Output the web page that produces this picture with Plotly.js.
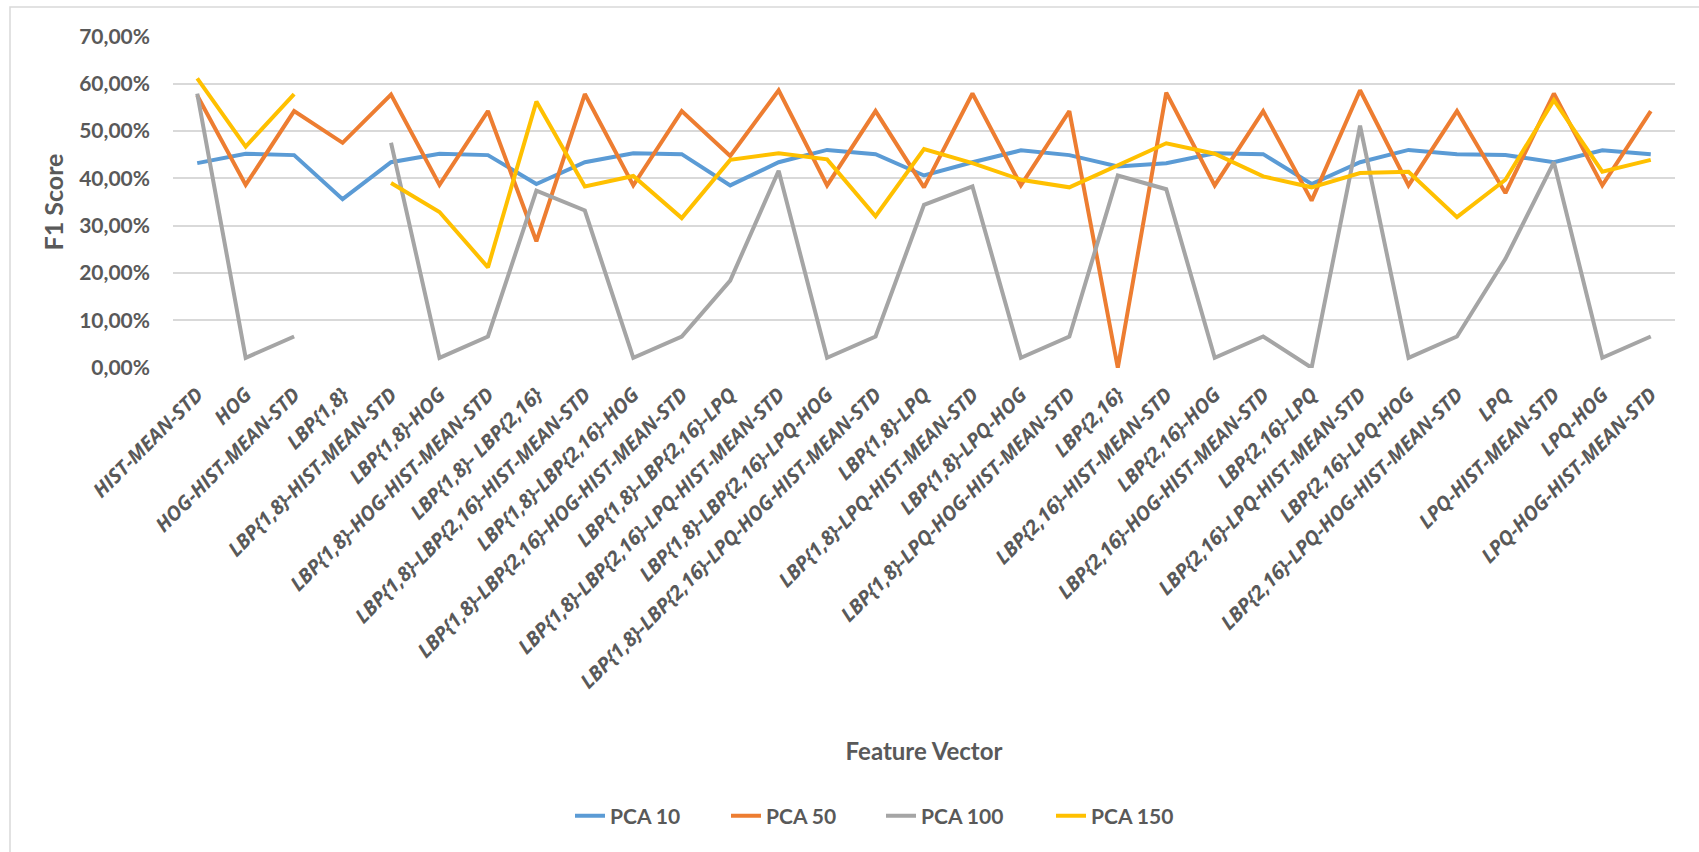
<!DOCTYPE html>
<html>
<head>
<meta charset="utf-8">
<script src="https://cdn.plot.ly/plotly-3.0.1.min.js"></script>
<style>
  html, body { margin: 0; padding: 0; background: #ffffff; }
  #chart { width: 1699px; height: 852px; }
</style>
</head>
<body>
<div id="chart"></div>
<script>
const categories = [
  "HIST-MEAN-STD",
  "HOG",
  "HOG-HIST-MEAN-STD",
  "LBP{1,8}",
  "LBP{1,8}-HIST-MEAN-STD",
  "LBP{1,8}-HOG",
  "LBP{1,8}-HOG-HIST-MEAN-STD",
  "LBP{1,8}- LBP{2,16}",
  "LBP{1,8}-LBP{2,16}-HIST-MEAN-STD",
  "LBP{1,8}-LBP{2,16}-HOG",
  "LBP{1,8}-LBP{2,16}-HOG-HIST-MEAN-STD",
  "LBP{1,8}-LBP{2,16}-LPQ",
  "LBP{1,8}-LBP{2,16}-LPQ-HIST-MEAN-STD",
  "LBP{1,8}-LBP{2,16}-LPQ-HOG",
  "LBP{1,8}-LBP{2,16}-LPQ-HOG-HIST-MEAN-STD",
  "LBP{1,8}-LPQ",
  "LBP{1,8}-LPQ-HIST-MEAN-STD",
  "LBP{1,8}-LPQ-HOG",
  "LBP{1,8}-LPQ-HOG-HIST-MEAN-STD",
  "LBP{2,16}",
  "LBP{2,16}-HIST-MEAN-STD",
  "LBP{2,16}-HOG",
  "LBP{2,16}-HOG-HIST-MEAN-STD",
  "LBP{2,16}-LPQ",
  "LBP{2,16}-LPQ-HIST-MEAN-STD",
  "LBP{2,16}-LPQ-HOG",
  "LBP{2,16}-LPQ-HOG-HIST-MEAN-STD",
  "LPQ",
  "LPQ-HIST-MEAN-STD",
  "LPQ-HOG",
  "LPQ-HOG-HIST-MEAN-STD"
];

const seriesNames = ["PCA 10", "PCA 50", "PCA 100", "PCA 150"];

const pca10 = [0.432,0.452,0.449,0.356,0.434,0.452,0.449,0.388,0.434,0.453,0.451,0.385,0.434,0.460,0.451,0.406,0.434,0.459,0.449,0.425,0.432,0.453,0.451,0.388,0.434,0.460,0.451,0.449,0.434,0.459,0.451];
const pca50 = [0.575,0.386,0.542,0.475,0.577,0.386,0.542,0.267,0.578,0.385,0.542,0.447,0.586,0.385,0.542,0.381,0.579,0.385,0.542,0.000,0.581,0.385,0.542,0.353,0.586,0.385,0.542,0.369,0.579,0.385,0.542];
const pca100 = [0.579,0.021,0.066,null,0.475,0.021,0.066,0.374,0.332,0.021,0.066,0.184,0.416,0.021,0.066,0.344,0.383,0.021,0.066,0.406,0.377,0.021,0.066,0.000,0.511,0.021,0.066,0.230,0.434,0.021,0.066];
const pca150 = [0.611,0.467,0.578,null,0.390,0.329,0.212,0.562,0.383,0.405,0.316,0.439,0.453,0.440,0.320,0.462,0.432,0.397,0.381,0.428,0.474,0.452,0.404,0.381,0.411,0.414,0.318,0.397,0.565,0.414,0.439];

const seriesValues = [pca10, pca50, pca100, pca150];
const seriesColors = ["#5B9BD5", "#ED7D31", "#A5A5A5", "#FFC000"];

const FONT = "Lato, 'Open Sans', sans-serif";
const TICKFONT = "'Open Sans', Lato, sans-serif";
const TXT = "#595959";

// plot area geometry (px)
const L = 173, R = 24, T = 36, B = 484, W = 1699, H = 852;
const pw = W - L - R, ph = H - T - B;
const px = v => (v - L) / pw;
const py = v => (H - B - v) / ph;

const legendIds = ["legend", "legend2", "legend3", "legend4"];
const legendLeft = [570, 726, 881, 1051];

const traces = seriesValues.map((vals, i) => ({
  type: "scatter",
  mode: "lines",
  name: seriesNames[i],
  x: categories,
  y: vals,
  connectgaps: false,
  legend: legendIds[i],
  line: { color: seriesColors[i], width: 4, shape: "linear" },
  hoverinfo: "x+y+name"
}));

const layout = {
  width: W,
  height: H,
  paper_bgcolor: "#ffffff",
  plot_bgcolor: "#ffffff",
  separators: ",.",
  margin: { l: L, r: R, t: T, b: B, pad: 0 },
  font: { family: FONT, color: TXT, size: 20, weight: "bold" },
  showlegend: true,
  xaxis: {
    type: "category",
    range: [-0.5, categories.length - 0.5],
    tickmode: "array",
    tickvals: categories,
    ticktext: categories.map(c => "<i>" + c + "</i>"),
    showgrid: false,
    zeroline: false,
    showline: false,
    ticks: "",
    tickangle: -45,
    ticklabelstandoff: 10,
    tickfont: { family: TICKFONT, size: 20, color: TXT, weight: "bold", style: "italic" },
    title: {
      text: "Feature Vector",
      font: { family: FONT, size: 24, color: TXT, weight: "bold" },
      standoff: 50
    },
    automargin: false
  },
  yaxis: {
    range: [-0.0005, 0.7005],
    dtick: 0.1,
    tick0: 0,
    tickformat: ".2%",
    showgrid: true,
    gridcolor: "#D9D9D9",
    gridwidth: 1.5,
    zeroline: false,
    showline: false,
    ticks: "",
    ticklabelstandoff: 22,
    tickfont: { family: FONT, size: 21, color: TXT, weight: "bold" },
    title: {
      text: "F1 Score",
      font: { family: FONT, size: 25, color: TXT, weight: "bold" },
      standoff: 8
    },
    automargin: false
  },
  shapes: [
    {
      type: "rect",
      xref: "paper", yref: "paper",
      x0: px(10), x1: px(1760),
      y0: py(7), y1: py(900),
      line: { color: "#D9D9D9", width: 1.5 },
      fillcolor: "rgba(0,0,0,0)",
      layer: "below"
    }
  ]
};

legendIds.forEach((id, i) => {
  layout[id] = {
    orientation: "h",
    x: px(legendLeft[i]),
    xanchor: "left",
    y: py(816),
    yanchor: "middle",
    font: { family: FONT, size: 21, color: TXT, weight: "bold" },
    bgcolor: "rgba(0,0,0,0)"
  };
});

Plotly.newPlot("chart", traces, layout, { displayModeBar: false, staticPlot: false });
</script>
</body>
</html>
